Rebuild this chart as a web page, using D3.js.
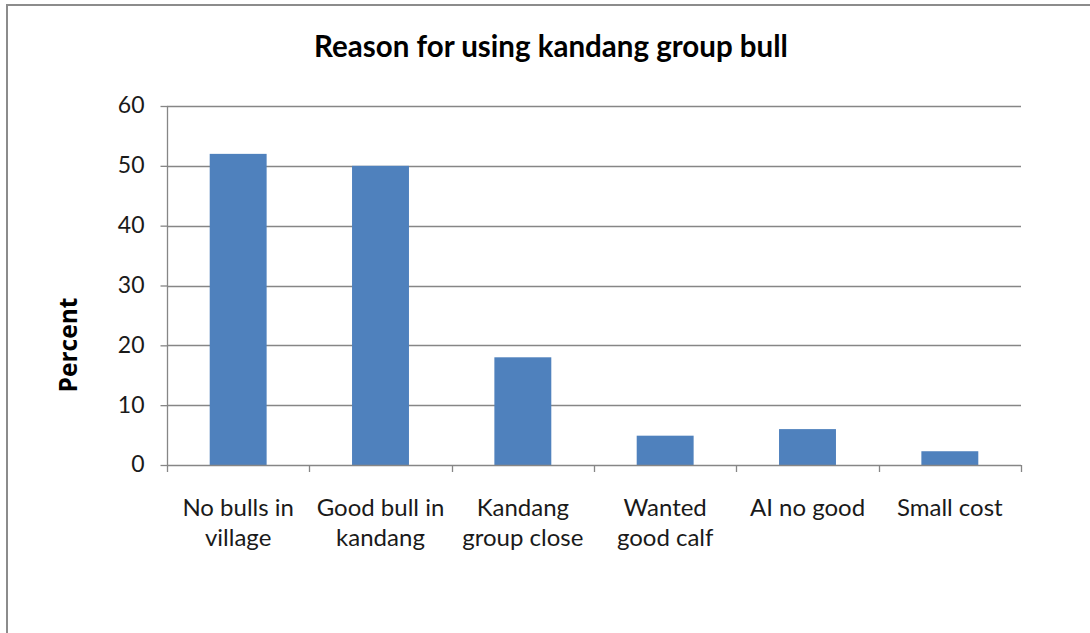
<!DOCTYPE html>
<html>
<head>
<meta charset="utf-8">
<script src="https://cdn.jsdelivr.net/npm/d3@7/dist/d3.min.js"></script>
<style>
html,body{margin:0;padding:0;background:#fff;}
svg{display:block;}
</style>
</head>
<body>
<svg id="chart" width="1090" height="633"></svg>
<script>
const categories = ["No bulls in village", "Good bull in kandang", "Kandang group close", "Wanted good calf", "AI no good", "Small cost"];
const labelLines = [["No bulls in", "village"], ["Good bull in", "kandang"], ["Kandang", "group close"], ["Wanted", "good calf"], ["AI no good"], ["Small cost"]];
const values = [52, 50, 18, 4.9, 6, 2.3];
const yTicks = [0, 10, 20, 30, 40, 50, 60];
const title = "Reason for using kandang group bull";
const yTitle = "Percent";

const svg = d3.select("#chart");
const W = 1090, H = 633;
const m = {left: 167, right: 1021, top: 106, bottom: 465};
const font = "Lato, 'Liberation Sans', sans-serif";
const gridColor = "#868686";

// frame
svg.append("rect").attr("x", 7).attr("y", 5).attr("width", W + 20).attr("height", H + 20)
  .attr("fill", "#fff").attr("stroke", "#8c8c8c").attr("stroke-width", 2);

const x = d3.scaleBand().domain(categories).range([m.left, m.right]).paddingInner(0.6).paddingOuter(0.3);
const y = d3.scaleLinear().domain([0, 60]).range([m.bottom, m.top]);

// gridlines
svg.append("g").selectAll("line").data(yTicks.filter(d => d > 0)).join("line")
  .attr("x1", m.left).attr("x2", m.right)
  .attr("y1", d => Math.round(y(d)) + 0.5).attr("y2", d => Math.round(y(d)) + 0.5)
  .attr("stroke", gridColor).attr("stroke-width", 1.3);

// bars
svg.append("g").selectAll("rect").data(values).join("rect")
  .attr("x", (d, i) => x(categories[i]))
  .attr("width", x.bandwidth())
  .attr("y", d => y(d))
  .attr("height", d => y(0) - y(d))
  .attr("fill", "#4F81BD");

// y axis
const yAxis = d3.axisLeft(y).tickValues(yTicks).tickSize(7).tickPadding(16).tickFormat(d3.format("d"));
const gy = svg.append("g").attr("transform", `translate(${m.left + 0.5},0)`).call(yAxis);
gy.select(".domain").attr("stroke", gridColor).attr("stroke-width", 1.3).attr("d", `M0,${m.top}V${m.bottom}`);
gy.selectAll(".tick line").attr("stroke", gridColor).attr("stroke-width", 1.3);
gy.selectAll(".tick text").attr("font-family", font).attr("font-size", 23).attr("fill", "#1a1a1a").attr("dy", "0.3em");

// x axis line and boundary ticks
const step = x.step();
const bounds = d3.range(categories.length + 1).map(i => m.left + i * step);
svg.append("line").attr("x1", m.left).attr("x2", m.right)
  .attr("y1", m.bottom + 0.5).attr("y2", m.bottom + 0.5)
  .attr("stroke", gridColor).attr("stroke-width", 1.3);
svg.append("g").selectAll("line").data(bounds).join("line")
  .attr("x1", d => Math.round(d) + 0.5).attr("x2", d => Math.round(d) + 0.5)
  .attr("y1", m.bottom).attr("y2", m.bottom + 7)
  .attr("stroke", gridColor).attr("stroke-width", 1.3);

// x labels
const xl = svg.append("g").selectAll("text").data(categories).join("text")
  .attr("x", d => x(d) + x.bandwidth() / 2)
  .attr("y", 516)
  .attr("text-anchor", "middle")
  .attr("font-family", font).attr("font-size", 24).attr("fill", "#1a1a1a");
xl.each(function(d, i) {
  const t = d3.select(this);
  labelLines[i].forEach((ln, j) => {
    t.append("tspan").attr("x", x(d) + x.bandwidth() / 2).attr("dy", j === 0 ? 0 : 30).text(ln);
  });
});

// title
svg.append("text").attr("x", 551).attr("y", 57).attr("text-anchor", "middle")
  .attr("font-family", font).attr("font-weight", "bold").attr("font-size", 29.5).attr("fill", "#000")
  .text(title);

// y title
svg.append("text").attr("transform", `translate(77,345) rotate(-90)`)
  .attr("text-anchor", "middle")
  .attr("font-family", "'Open Sans', 'DejaVu Sans', sans-serif").attr("font-weight", "bold")
  .attr("font-size", 24.5).attr("fill", "#000").text(yTitle);
</script>
</body>
</html>
